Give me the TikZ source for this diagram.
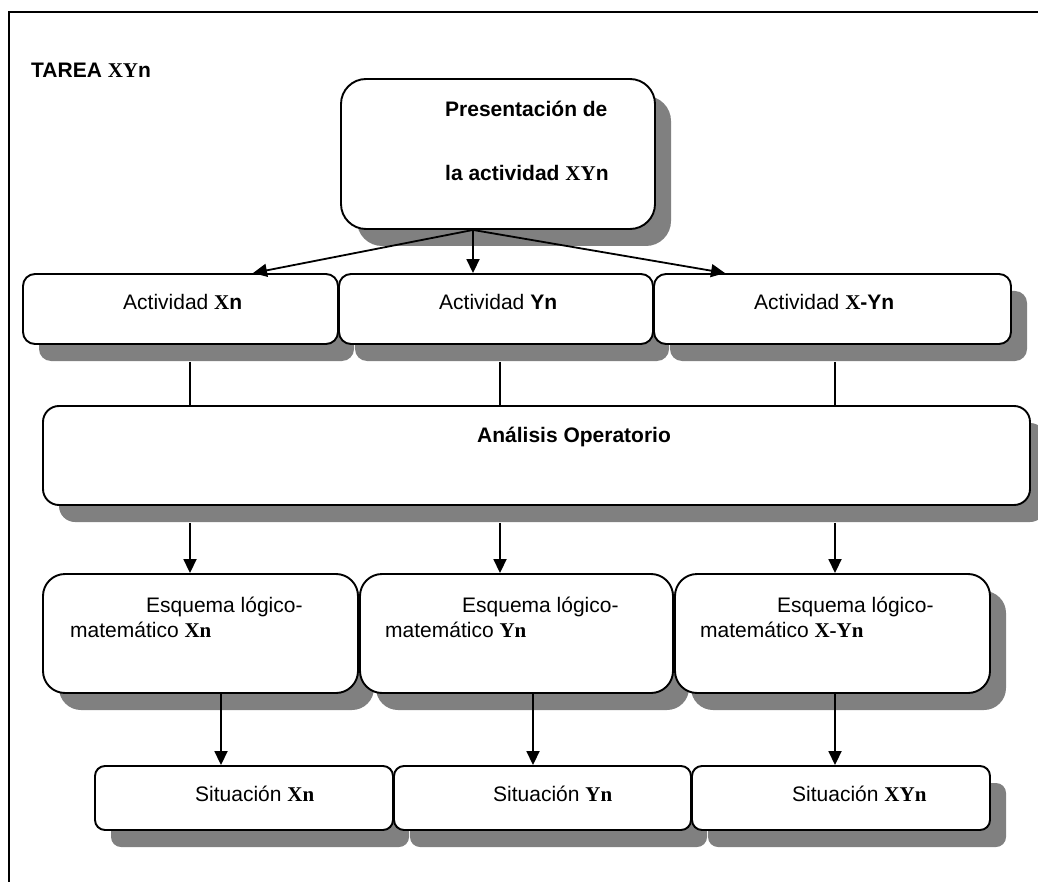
\documentclass[tikz,border=0pt]{standalone}
\usepackage{fontspec}
\setmainfont{Liberation Sans}
\newfontfamily\serf{Liberation Serif}
\usetikzlibrary{arrows.meta,shadows,calc}
\definecolor{shgray}{RGB}{128,128,128}
\newcommand\SX[1]{{\serf\bfseries #1}}
\tikzset{
  box/.style={draw=black, line width=1.9pt, fill=white, inner sep=0pt,
    drop shadow={shadow xshift=16pt, shadow yshift=-17pt, fill=shgray, opacity=1}},
  txt/.style={inner sep=0pt, anchor=base west, font=\fontsize{21}{25}\selectfont},
  arr/.style={line width=1.8pt, -{Triangle[length=14pt,width=13pt]}},
  lnk/.style={line width=1.8pt},
  frame/.style={line width=1.5pt},
}
\begin{document}
\begin{tikzpicture}[x=1pt,y=-1pt]
\useasboundingbox[fill=white] (0,0) rectangle (1038,882);
% frame
\coordinate (fbl) at (9,882);
\coordinate (ftl) at (9,12);
\coordinate (ftr) at (1038,12);
\draw[frame] (fbl) -- (ftl) -- (ftr);
\node[txt] (tarea) at (31,78) {\textbf{TAREA \SX{XY}n}};

% boxes
\node[box, rounded corners=25pt, minimum width=314pt, minimum height=150pt] (pres) at (498,154) {};
\node[txt, font=\fontsize{21}{25}\selectfont\bfseries] (prest1) at (445,117) {Presentación de};
\node[txt, font=\fontsize{21}{25}\selectfont\bfseries] (prest2) at (445,181) {la actividad \SX{XY}n};

\node[box, rounded corners=12pt, minimum width=315pt, minimum height=70pt] (axn) at (180.5,309) {};
\node[box, rounded corners=12pt, minimum width=314pt, minimum height=70pt] (ayn) at (496,309) {};
\node[box, rounded corners=12pt, minimum width=357pt, minimum height=70pt] (axyn) at (832.5,309) {};
\node[txt] (axnt) at (123,310) {Actividad \SX{X}\textbf{n}};
\node[txt] (aynt) at (439,310) {Actividad \textbf{Yn}};
\node[txt] (axynt) at (754,310) {Actividad \SX{X}\textbf{-Yn}};

\node[box, rounded corners=16pt, minimum width=987pt, minimum height=99pt] (ana) at (536.5,455.5) {};
\node[txt] (anat) at (477,442) {\textbf{Análisis Operatorio}};

\node[box, rounded corners=22pt, minimum width=315pt, minimum height=119pt] (exn) at (200.5,633.5) {};
\node[box, rounded corners=22pt, minimum width=313pt, minimum height=119pt] (eyn) at (516.5,633.5) {};
\node[box, rounded corners=22pt, minimum width=315pt, minimum height=119pt] (exyn) at (832.5,633.5) {};
\node[txt] (exnt1) at (146,612) {Esquema lógico-};
\node[txt] (exnt2) at (70,637) {matemático \SX{Xn}};
\node[txt] (eynt1) at (462,612) {Esquema lógico-};
\node[txt] (eynt2) at (385,637) {matemático \SX{Yn}};
\node[txt] (exynt1) at (777,612) {Esquema lógico-};
\node[txt] (exynt2) at (700,637) {matemático \SX{X-Yn}};

\node[box, rounded corners=10pt, minimum width=298pt, minimum height=64pt] (sxn) at (244,798) {};
\node[box, rounded corners=10pt, minimum width=297pt, minimum height=64pt] (syn) at (542.5,798) {};
\node[box, rounded corners=10pt, minimum width=298pt, minimum height=64pt] (sxyn) at (841,798) {};
\node[txt] (sxnt) at (195,801) {Situación \SX{Xn}};
\node[txt] (synt) at (493,801) {Situación \SX{Yn}};
\node[txt] (sxynt) at (792,801) {Situación \SX{XYn}};

% connectors: presentation -> activities
\draw[arr] ($(pres.south)+(-25,0)$) -- ($(axn.north)+(72.5,0)$);
\draw[arr] ($(pres.south)+(-25,0)$) -- ($(ayn.north)+(-23,0)$);
\draw[arr] ($(pres.south)+(-25,0)$) -- ($(axyn.north)+(-107.5,0)$);

% activities -> analysis
\draw[lnk] ($(axn.south)+(9.5,17)$) -- ($(axn.south |- ana.north)+(9.5,0)$);
\draw[lnk] ($(ayn.south)+(4,17)$) -- ($(ayn.south |- ana.north)+(4,0)$);
\draw[lnk] ($(axyn.south)+(2.5,17)$) -- ($(axyn.south |- ana.north)+(2.5,0)$);

% analysis -> schemes
\draw[arr] ($(exn.north |- ana.south)+(-10.5,17)$) -- ($(exn.north)+(-10.5,0)$);
\draw[arr] ($(eyn.north |- ana.south)+(-16.5,17)$) -- ($(eyn.north)+(-16.5,0)$);
\draw[arr] ($(exyn.north |- ana.south)+(2.5,17)$) -- ($(exyn.north)+(2.5,0)$);

% schemes -> situations
\draw[arr] ($(exn.south)+(20.5,0)$) -- ($(sxn.north)+(-23,0)$);
\draw[arr] ($(eyn.south)+(16.5,0)$) -- ($(syn.north)+(-9.5,0)$);
\draw[arr] ($(exyn.south)+(2.5,0)$) -- ($(sxyn.north)+(-6,0)$);
\end{tikzpicture}
\end{document}
